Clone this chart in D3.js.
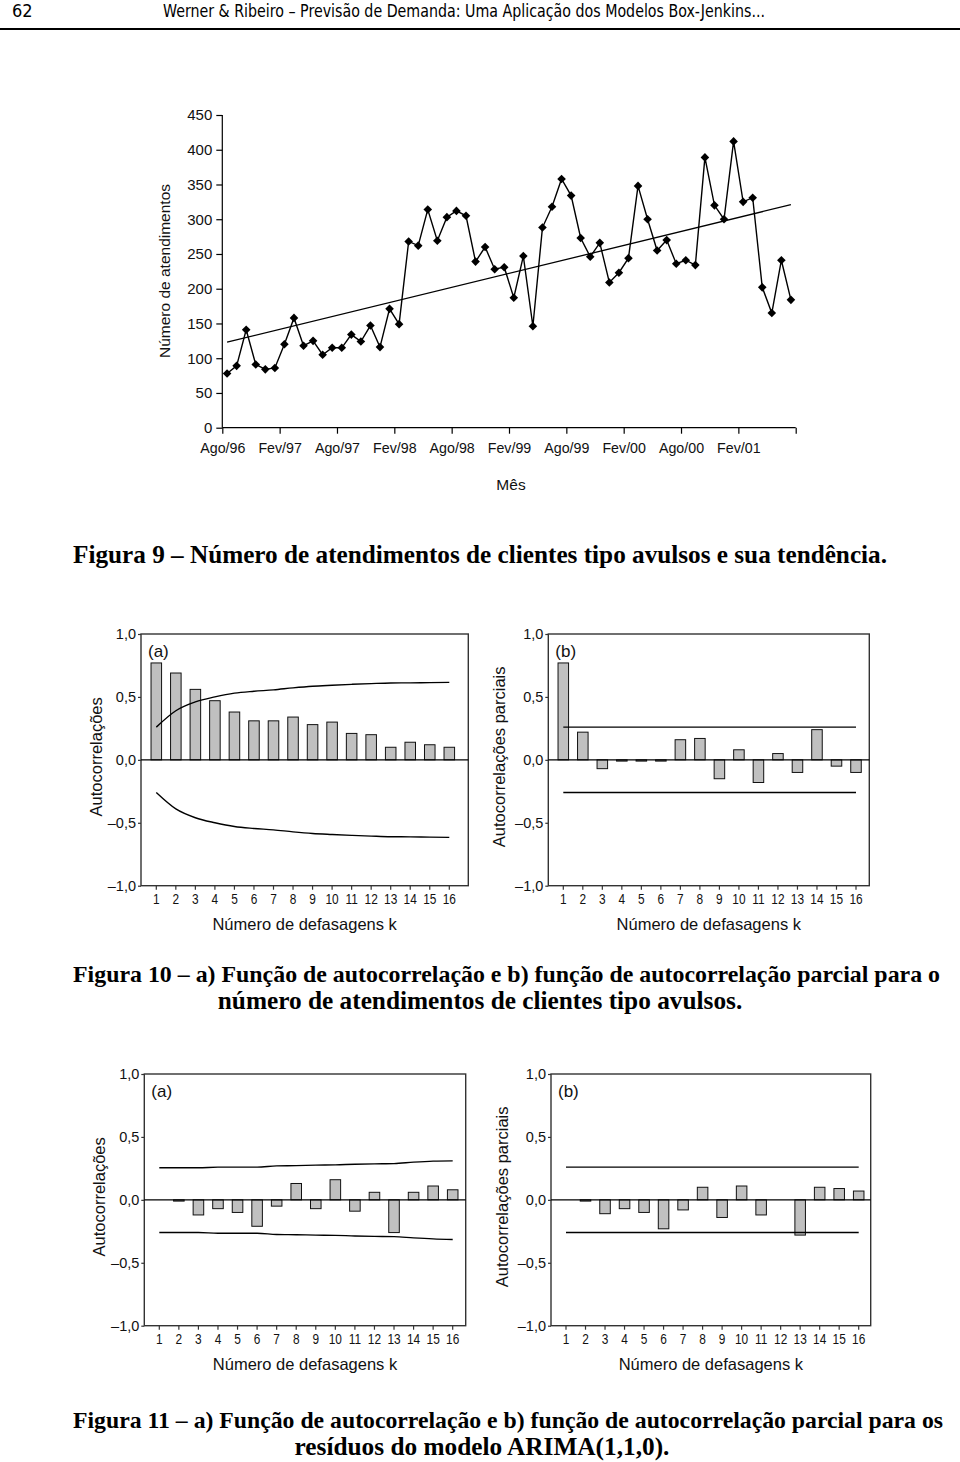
<!DOCTYPE html>
<html><head><meta charset="utf-8">
<script src="https://cdn.jsdelivr.net/npm/d3@7"></script>
<style>body{margin:0;background:#fff}</style>
</head><body><svg id="c" width="960" height="1462"></svg>
<script>
// ---------- DATA ----------
const monthTickLabels = ["Ago/96","Fev/97","Ago/97","Fev/98","Ago/98","Fev/99","Ago/99","Fev/00","Ago/00","Fev/01"];
const attendances = [78,89,141,91,84,86,120,158,118,125,
  105,115,115,134,124,147,116,171,149,268,
  262,314,269,303,312,305,239,260,228,231,
  187,247,146,288,318,358,334,273,246,266,
  209,223,244,348,300,255,270,236,241,234,
  389,320,300,412,325,331,202,165,241,184];
const trendEnds = [123, 321];
const topYTicks = [0,50,100,150,200,250,300,350,400,450];

const lags = [1,2,3,4,5,6,7,8,9,10,11,12,13,14,15,16];
const corrTicks = [-1,-0.5,0,0.5,1];

const acfSeries = [0.77,0.69,0.56,0.47,0.38,0.31,0.31,0.34,0.28,0.30,0.21,0.20,0.10,0.14,0.12,0.10];
const acfUpper = [0.26,0.39,0.46,0.50,0.53,0.545,0.556,0.572,0.585,0.593,0.60,0.606,0.611,0.612,0.614,0.616];
const acfLower = [-0.26,-0.39,-0.46,-0.50,-0.53,-0.545,-0.556,-0.572,-0.585,-0.593,-0.60,-0.606,-0.611,-0.612,-0.614,-0.616];

const pacfSeries = [0.77,0.22,-0.07,-0.01,-0.01,-0.01,0.16,0.17,-0.15,0.08,-0.18,0.05,-0.10,0.24,-0.05,-0.10];
const pacfLimit = 0.26;

const residAcf = [0.00,-0.01,-0.12,-0.07,-0.10,-0.21,-0.05,0.13,-0.07,0.16,-0.09,0.06,-0.26,0.06,0.11,0.08];
const residAcfUpper = [0.255,0.255,0.255,0.26,0.26,0.26,0.27,0.272,0.276,0.278,0.283,0.286,0.288,0.30,0.308,0.31];
const residAcfLower = [-0.26,-0.26,-0.26,-0.265,-0.265,-0.265,-0.275,-0.277,-0.28,-0.282,-0.287,-0.29,-0.292,-0.302,-0.31,-0.315];

const residPacf = [0.00,-0.01,-0.11,-0.07,-0.10,-0.23,-0.08,0.10,-0.14,0.11,-0.12,0.00,-0.28,0.10,0.09,0.07];
const residPacfLimit = 0.26;

// ---------- DRAW ----------
const svg = d3.select("#c");
const SANS = "'Liberation Sans', Arial, Helvetica, sans-serif";
const SERIF = "'Liberation Serif', 'Times New Roman', Times, serif";
const NARROW = "'Liberation Sans Narrow', 'Arial Narrow', 'DejaVu Sans Condensed', sans-serif";

// header
svg.append("text").attr("x",12).attr("y",17).attr("font-family",NARROW).attr("font-size",18).text("62");
svg.append("text").attr("x",163).attr("y",17).attr("font-family",NARROW).attr("font-size",18)
  .attr("textLength",602).attr("lengthAdjust","spacingAndGlyphs")
  .text("Werner & Ribeiro – Previsão de Demanda: Uma Aplicação dos Modelos Box-Jenkins...");
svg.append("line").attr("x1",0).attr("x2",960).attr("y1",29).attr("y2",29).attr("stroke","#000").attr("stroke-width",2);

// ---- Figure 9 ----
(function(){
  const x = d3.scaleLinear().domain([0, attendances.length]).range([222.3, 795.7]);
  const y = d3.scaleLinear().domain([0, 450]).range([427.7, 115]);
  const g = svg.append("g");
  const yAx = g.append("g").attr("transform",`translate(${x(0)},0)`)
    .call(d3.axisLeft(y).tickValues(topYTicks).tickSize(6).tickPadding(4));
  const xTicks = d3.range(0, attendances.length + 1, 6);
  const xAx = g.append("g").attr("transform",`translate(0,${y(0)})`)
    .call(d3.axisBottom(x).tickValues(xTicks).tickSize(6).tickPadding(9)
      .tickFormat((d,i) => monthTickLabels[i] || ""));
  [yAx, xAx].forEach(a => {
    a.selectAll("path,line").attr("stroke","#000").attr("stroke-width",1.2);
    a.selectAll("text").attr("font-family",SANS).attr("fill","#111");
  });
  yAx.selectAll("text").attr("font-size",15);
  xAx.selectAll("text").attr("font-size",15).attr("transform","scale(0.95,1)");
  yAx.select("path").attr("d",`M0,${y(450)}V${y(0)}`);
  xAx.select("path").attr("d",`M${x(0)},0H${x(attendances.length)}`);

  // trend
  g.append("line")
    .attr("x1", x(0.5)).attr("y1", y(trendEnds[0]))
    .attr("x2", x(attendances.length - 0.5)).attr("y2", y(trendEnds[1]))
    .attr("stroke","#000").attr("stroke-width",1.3);

  const line = d3.line().x((d,i) => x(i + 0.5)).y(d => y(d));
  g.append("path").datum(attendances).attr("d", line)
    .attr("fill","none").attr("stroke","#000").attr("stroke-width",1.4);
  g.selectAll("path.mk").data(attendances).join("path").attr("class","mk")
    .attr("transform",(d,i) => `translate(${x(i+0.5)},${y(d)})`)
    .attr("d","M0,-4.3L4.3,0L0,4.3L-4.3,0Z").attr("fill","#000");

  g.append("text").attr("transform","translate(170,271) rotate(-90)").attr("text-anchor","middle")
    .attr("font-family",SANS).attr("font-size",15.5).attr("fill","#111").text("Número de atendimentos");
  g.append("text").attr("x",511).attr("y",490).attr("text-anchor","middle")
    .attr("font-family",SANS).attr("font-size",15.5).attr("fill","#111").text("Mês");
})();

function fmtCorr(v){
  const s = Math.abs(v).toFixed(1).replace(".", ",");
  return v < 0 ? "–" + s : s;
}

function panel(cfg){
  const g = svg.append("g");
  const y = d3.scaleLinear().domain([-1, 1]).range([cfg.y1, cfg.y0]);
  const step = (cfg.c16 - cfg.c1) / (lags.length - 1);
  const xb = d3.scaleBand().domain(lags).range([cfg.c1 - step/2, cfg.c16 + step/2])
    .paddingInner(0.46).paddingOuter(0.23);
  const cx = l => xb(l) + xb.bandwidth()/2;

  const yAx = g.append("g").attr("transform",`translate(${cfg.x0},0)`)
    .call(d3.axisLeft(y).tickValues(corrTicks).tickSize(3).tickPadding(2).tickFormat(fmtCorr));
  const xAx = g.append("g").attr("transform",`translate(0,${cfg.y1})`)
    .call(d3.axisBottom(xb).tickSize(4).tickPadding(4));
  [yAx, xAx].forEach(a => {
    a.select("path.domain").remove();
    a.selectAll("line").attr("stroke","#333").attr("stroke-width",1.2);
    a.selectAll("text").attr("font-family",SANS).attr("font-size",14.5).attr("fill","#111");
  });
  xAx.selectAll("text").attr("transform","scale(0.82,1)");

  g.append("rect").attr("x",cfg.x0).attr("y",cfg.y0).attr("width",cfg.x1-cfg.x0).attr("height",cfg.y1-cfg.y0)
    .attr("fill","none").attr("stroke","#333").attr("stroke-width",1.4);

  g.selectAll("rect.bar").data(lags.map((l,i)=>({l, v: cfg.values[i]}))).join("rect").attr("class","bar")
    .attr("x", d => xb(d.l)).attr("width", xb.bandwidth())
    .attr("y", d => Math.min(y(d.v), y(0))).attr("height", d => Math.abs(y(d.v) - y(0)))
    .attr("fill","#c0c0c0").attr("stroke","#111").attr("stroke-width",1);

  g.append("line").attr("x1",cfg.x0).attr("x2",cfg.x1).attr("y1",y(0)).attr("y2",y(0))
    .attr("stroke","#000").attr("stroke-width",1.4);

  const lim = d3.line().x((d,i) => cx(lags[i])).y(d => y(d)).curve(d3.curveMonotoneX);
  [cfg.upper, cfg.lower].forEach(arr => {
    g.append("path").datum(arr).attr("d", lim).attr("fill","none").attr("stroke","#000").attr("stroke-width",1.4);
  });

  g.append("text").attr("x",cfg.x0+7).attr("y",cfg.y0+23).attr("font-family",SANS).attr("font-size",17)
    .attr("fill","#111").text(cfg.tag);
  g.append("text").attr("transform",`translate(${cfg.titleX},${(cfg.y0+cfg.y1)/2-3}) rotate(-90)`)
    .attr("text-anchor","middle").attr("font-family",SANS).attr("font-size",16.5).attr("fill","#111").text(cfg.yTitle);
  g.append("text").attr("x",(cfg.x0+cfg.x1)/2).attr("y",cfg.y1+44.5).attr("text-anchor","middle")
    .attr("font-family",SANS).attr("font-size",16.5).attr("fill","#111").text("Número de defasagens k");
}

const constSeries = v => lags.map(() => v);

panel({x0:141, x1:468.3, y0:634, y1:885.7, c1:156.3, c16:449.3, values:acfSeries, upper:acfUpper, lower:acfLower,
  tag:"(a)", yTitle:"Autocorrelações", titleX:102});
panel({x0:548.3, x1:869.3, y0:634, y1:885.7, c1:563.3, c16:856, values:pacfSeries,
  upper:constSeries(pacfLimit), lower:constSeries(-pacfLimit),
  tag:"(b)", yTitle:"Autocorrelações parciais", titleX:505});
panel({x0:144.3, x1:465.7, y0:1074, y1:1325.7, c1:159.3, c16:452.7, values:residAcf, upper:residAcfUpper, lower:residAcfLower,
  tag:"(a)", yTitle:"Autocorrelações", titleX:105});
panel({x0:551, x1:870.7, y0:1074, y1:1325.7, c1:566, c16:858.7, values:residPacf,
  upper:constSeries(residPacfLimit), lower:constSeries(-residPacfLimit),
  tag:"(b)", yTitle:"Autocorrelações parciais", titleX:508});

// captions
function cap(txt, x, y, anchor, size, len){
  const t = svg.append("text").attr("x",x).attr("y",y).attr("text-anchor",anchor)
    .attr("font-family",SERIF).attr("font-weight","bold").attr("font-size",size).attr("fill","#000").text(txt);
  if (len) t.attr("textLength",len).attr("lengthAdjust","spacingAndGlyphs");
}
cap("Figura 9 – Número de atendimentos de clientes tipo avulsos e sua tendência.", 73, 563, "start", 25.3, 814);
cap("Figura 10 – a) Função de autocorrelação e b) função de autocorrelação parcial para o", 73, 982, "start", 24, 867);
cap("número de atendimentos de clientes tipo avulsos.", 480, 1009, "middle", 25.3);
cap("Figura 11 – a) Função de autocorrelação e b) função de autocorrelação parcial para os", 73, 1428, "start", 24, 870);
cap("resíduos do modelo ARIMA(1,1,0).", 482, 1455, "middle", 25.3);
</script></body></html>
